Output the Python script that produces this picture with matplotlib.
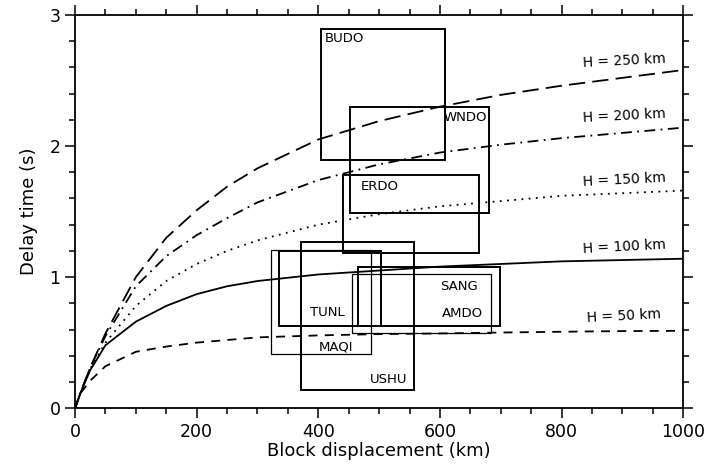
import matplotlib.pyplot as plt
from matplotlib.patches import Rectangle

plt.rcParams['font.family'] = ['DejaVu Sans']

# delay time curves for different heights H
x_km = [0, 10, 25, 50, 100, 150, 200, 250, 300, 400, 500, 600, 700, 800, 900, 1000]
h50 = [0, 0.12, 0.21, 0.32, 0.43, 0.47, 0.50, 0.52, 0.54, 0.555, 0.565, 0.57, 0.577, 0.583, 0.588, 0.59]
h100 = [0, 0.13, 0.29, 0.48, 0.66, 0.78, 0.87, 0.93, 0.97, 1.02, 1.05, 1.08, 1.10, 1.12, 1.13, 1.14]
h150 = [0, 0.13, 0.30, 0.50, 0.78, 0.97, 1.10, 1.20, 1.28, 1.40, 1.48, 1.54, 1.58, 1.62, 1.64, 1.66]
h200 = [0, 0.13, 0.31, 0.55, 0.93, 1.16, 1.32, 1.45, 1.57, 1.74, 1.86, 1.95, 2.01, 2.06, 2.10, 2.14]
h250 = [0, 0.13, 0.31, 0.57, 1.00, 1.30, 1.51, 1.69, 1.83, 2.05, 2.19, 2.30, 2.39, 2.46, 2.52, 2.58]
curve_names = ['H = 50 km', 'H = 100 km', 'H = 150 km', 'H = 200 km', 'H = 250 km']

# station boxes: displacement range (km) and delay range (s)
stations = ['BUDO', 'WNDO', 'ERDO', 'USHU', 'TUNL', 'MAQI', 'SANG', 'AMDO']
box_x0 = [404, 452, 441, 371, 336, 323, 465, 455]
box_x1 = [608, 681, 665, 558, 503, 486, 699, 684]
box_y0 = [1.89, 1.49, 1.18, 0.14, 0.63, 0.41, 0.63, 0.57]
box_y1 = [2.89, 2.30, 1.78, 1.27, 1.20, 1.21, 1.08, 1.02]
thick = [True, True, True, True, True, False, True, False]

fig = plt.figure(figsize=(7.08, 4.67), dpi=100)
ax = fig.add_axes([0.106, 0.126, 0.859, 0.842])

styles = [(0, (5, 4)), '-', (0, (1, 3)), (0, (6, 3, 1, 3)), (0, (9, 4))]
for ys, ls in zip([h50, h100, h150, h200, h250], styles):
    ax.plot(x_km, ys, color='black', linestyle=ls, lw=1.3)

# curve labels on the right
lab_y = [0.70, 1.23, 1.74, 2.23, 2.65]
for name, ly in zip(curve_names, lab_y):
    ax.text(903, ly, name, ha='center', va='center', fontsize=10, rotation=3)

for i, s in enumerate(stations):
    ax.add_patch(Rectangle((box_x0[i], box_y0[i]), box_x1[i] - box_x0[i],
                           box_y1[i] - box_y0[i], fill=False, ec='black',
                           lw=1.4 if thick[i] else 0.9))

# station label placement (left, top)
lab_pos = {'BUDO': (411, 2.87, 'left'), 'WNDO': (678, 2.27, 'right'),
           'ERDO': (469, 1.74, 'left'), 'TUNL': (386, 0.78, 'left'),
           'MAQI': (400, 0.52, 'left'), 'SANG': (600, 0.98, 'left'),
           'AMDO': (604, 0.77, 'left'), 'USHU': (485, 0.27, 'left')}
for s in stations:
    lx, ly, ha = lab_pos[s]
    ax.text(lx, ly, s, ha=ha, va='top', fontsize=9.5)

ax.set_xlim(0, 1000)
ax.set_ylim(0, 3)
ax.set_xticks([0, 200, 400, 600, 800, 1000])
ax.set_xticks(range(0, 1001, 50), minor=True)
ax.set_yticks([0, 1, 2, 3])
ax.set_yticks([i * 0.2 for i in range(16)], minor=True)
ax.tick_params(which='both', direction='out', top=True, right=True,
               labelsize=12.5, width=1.1)
ax.tick_params(which='major', length=7)
ax.tick_params(which='minor', length=4)
for sp in ax.spines.values():
    sp.set_linewidth(1.3)

ax.set_xlabel('Block displacement (km)', fontsize=13, labelpad=1)
ax.set_ylabel('Delay time (s)', fontsize=13, labelpad=8)

fig.savefig('out.png', dpi=100)
